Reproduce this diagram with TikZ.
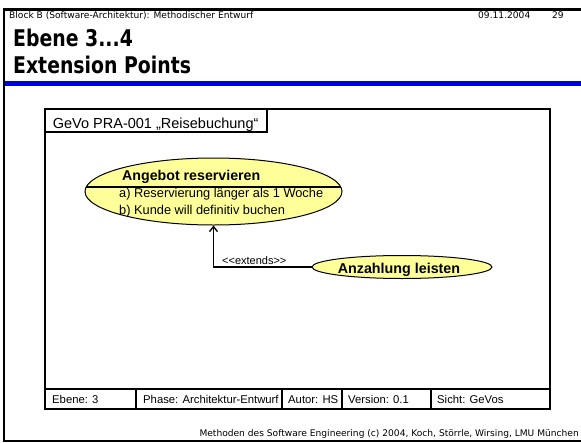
\documentclass[tikz,border=0pt]{standalone}
\usepackage{fontspec}
\setmainfont{Liberation Sans}
\newfontfamily\slidefont{DejaVu Sans}
\newfontfamily\titlefont{DejaVu Sans Bold}[FakeStretch=0.82]
\usetikzlibrary{arrows.meta,shapes.geometric}
\definecolor{ucyellow}{RGB}{255,255,153}
\definecolor{barblue}{RGB}{0,0,225}
\tikzset{
  txt/.style={anchor=base west, inner sep=0pt},
  hdrtxt/.style={txt, font=\slidefont\fontsize{9.1}{11}\selectfont},
  ttl/.style={txt, font=\titlefont\fontsize{23}{27}\selectfont},
  frameline/.style={line width=1.3pt, black},
  uc/.style={ellipse, draw=black, line width=1pt, fill=ucyellow, inner sep=0pt},
  cell/.style={txt, font=\fontsize{11.3}{13}\selectfont},
}
\begin{document}
\begin{tikzpicture}[x=1pt,y=-1pt]
\useasboundingbox (0,0) rectangle (581,442);
% slide frame
\draw[line width=2.5pt] (581,9.5) -- (4,9.5) -- (4,441) -- (581,441);
\draw[line width=4.5pt, barblue] (5,83.5) -- (581,83.5);
% header
\node[hdrtxt] (hdr) at (9,18) {Block B (Software-Architektur): Methodischer Entwurf};
\node[hdrtxt] (date) at (478,18) {09.11.2004};
\node[hdrtxt] (pg) at (552,18) {29};
\node[ttl] (t1) at (13,46) {Ebene 3...4};
\node[ttl] (t2) at (13,73) {Extension Points};
% footer
\node[anchor=base east, inner sep=0pt, font=\slidefont\fontsize{9.1}{11}\selectfont] (ftr) at (579,436) {Methoden des Software Engineering (c) 2004, Koch, Störrle, Wirsing, LMU München};
% diagram frame
\draw[frameline] (45,109) rectangle (550,409);
\draw[frameline] (45,132) -- (267,132) -- (267,109);
\node[txt, font=\fontsize{14.5}{17}\selectfont] (gevo) at (52.7,128) {GeVo PRA-001 „Reisebuchung“};
% footer row
\draw[frameline] (45,389) -- (550,389);
\foreach \xx in {136,282,342,431} \draw[frameline] (\xx,389) -- (\xx,409);
\node[cell] (c1) at (52,403) {Ebene: 3};
\node[cell] (c2) at (143,403) {Phase: Architektur-Entwurf};
\node[cell] (c3) at (288,403) {Autor: HS};
\node[cell] (c4) at (348,403) {Version: 0.1};
\node[cell] (c5) at (437,403) {Sicht: GeVos};
% use case 1
\node[uc, minimum width=257pt, minimum height=67pt] (uc1) at (213.5,191.5) {};
\begin{scope}
  \clip (213.5,191.5) ellipse [x radius=128.5, y radius=33.5];
  \draw[line width=1.1pt] (80,187) -- (350,187);
\end{scope}
\node[txt, font=\bfseries\fontsize{14.2}{16}\selectfont] (uc1t) at (122,180) {Angebot reservieren};
\node[txt, font=\fontsize{12.8}{15}\selectfont] (uc1a) at (119,197) {a) Reservierung länger als 1 Woche};
\node[txt, font=\fontsize{12.8}{15}\selectfont] (uc1b) at (119,214) {b) Kunde will definitiv buchen};
% use case 2
\node[uc, minimum width=180pt, minimum height=23pt] (uc2) at (402,267) {};
\node[anchor=base, inner sep=0pt, font=\bfseries\fontsize{14.3}{16}\selectfont] (uc2t) at (399,273) {Anzahlung leisten};
% extends
\draw[line width=1.4pt, -{Straight Barb[length=5pt,width=8pt]}] (uc2.west) -| (uc1.south);
\node[txt, font=\fontsize{11}{13}\selectfont] (ext) at (222,264) {<\kern0pt<extends>\kern0pt>};
\end{tikzpicture}
\end{document}
